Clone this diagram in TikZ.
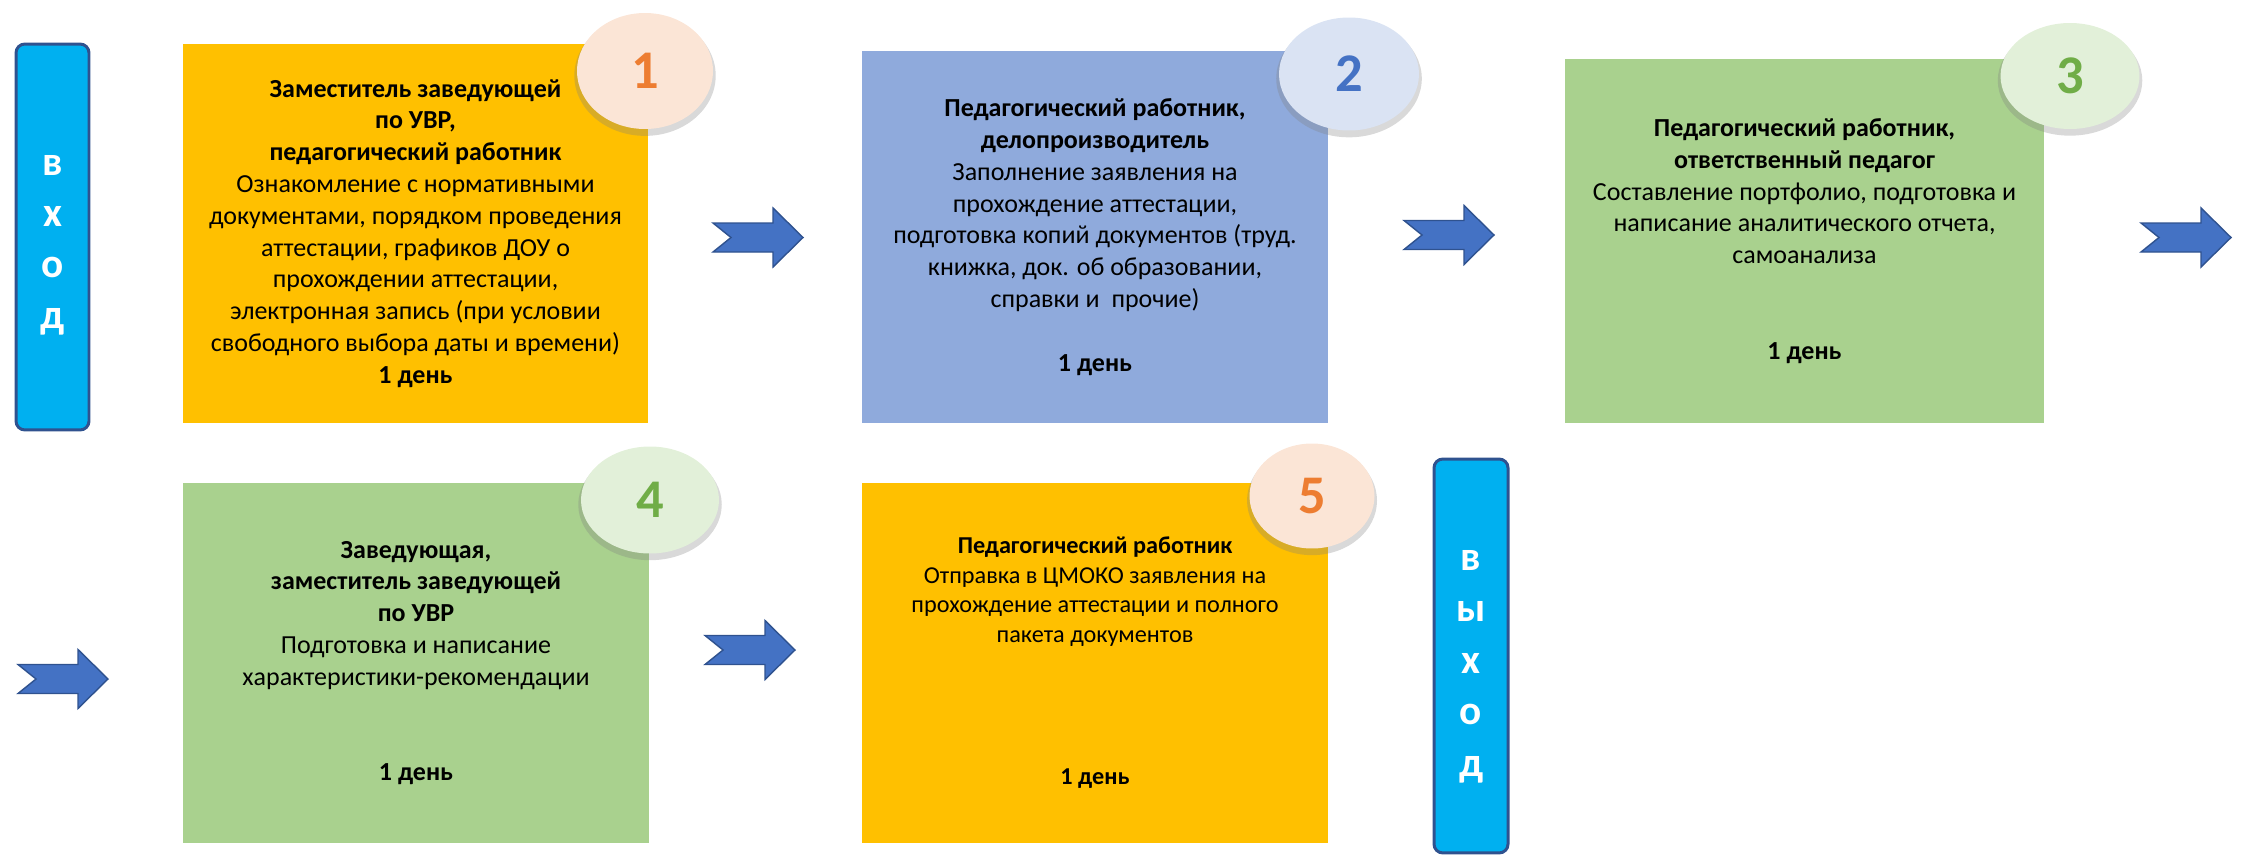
\documentclass[tikz,border=0pt]{standalone}
\usepackage{fontspec}
\setmainfont{Carlito}
\usepackage{tikz}
\usetikzlibrary{shapes.geometric,shadows}
\definecolor{boxorange}{HTML}{FFC000}
\definecolor{boxblue}{HTML}{8FAADC}
\definecolor{boxgreen}{HTML}{A9D18E}
\definecolor{badgeorange}{HTML}{FBE5D6}
\definecolor{badgeblue}{HTML}{DAE3F3}
\definecolor{badgegreen}{HTML}{E2F0D9}
\definecolor{numorange}{HTML}{ED7D31}
\definecolor{numblue}{HTML}{4472C4}
\definecolor{numgreen}{HTML}{70AD47}
\definecolor{barblue}{HTML}{00B0F0}
\definecolor{barline}{HTML}{2F528F}
\definecolor{arrowblue}{HTML}{4472C4}
\tikzset{
	stepbox/.style={rectangle, inner sep=0pt, align=center, font=\fontsize{14.8}{18.1}\selectfont},
	badge/.style={ellipse, inner sep=0pt, font=\fontsize{31}{31}\selectfont\bfseries,
		drop shadow={shadow xshift=0pt, shadow yshift=-2.5pt, shadow scale=1.04, opacity=0.3}},
	bar/.style={rectangle, draw=barline, line width=1.7pt, fill=barblue, rounded corners=5pt},
	barletter/.style={anchor=base, inner sep=0pt, text=white, font=\fontsize{23.5}{24}\selectfont\bfseries},
	notcharrow/.style={draw=barline, fill=arrowblue, line width=0.8pt, line join=miter},
}
\def\blockarrow(#1,#2){\draw[notcharrow, shift={(#1,#2)}] (0,-14.5) -- (60,-14.5) -- (60,-29.5) -- (90,0) -- (60,29.5) -- (60,14.5) -- (0,14.5) -- (18,0) -- cycle;}

\begin{document}
\begin{tikzpicture}[x=0.02cm, y=-0.02cm]
			%%%%% START %%%%%
			\useasboundingbox (0,0) rectangle (2241,855);
			
			\node[bar, minimum width=1.46cm, minimum height=7.72cm] (entry) at (52.5,237) {};
			\foreach \ch [count=\i] in {в,х,о,д}
				\node[barletter] (in\i) at (52.5,{175+51*(\i-1)}) {\ch};
			
			\node[stepbox, fill=boxorange, minimum width=9.3cm, minimum height=7.58cm] (step1) at (415.5,233.5)
				{\textbf{Заместитель заведующей}\\ \textbf{по УВР,}\\ \textbf{педагогический работник}\\
				Ознакомление с нормативными\\ документами, порядком проведения\\ аттестации, графиков ДОУ о\\
				прохождении аттестации,\\ электронная запись (при условии\\ свободного выбора даты и времени)\\
				\textbf{1 день}};
			\node[badge, fill=badgeorange, text=numorange, minimum width=2.72cm, minimum height=2.32cm] (num1) at (645,71) {1};
			
			\blockarrow(713,237.5)
			
			\node[stepbox, fill=boxblue, minimum width=9.32cm, minimum height=7.44cm] (step2) at (1095,237)
				{\textbf{Педагогический работник,}\\ \textbf{делопроизводитель}\\ Заполнение заявления на\\
				прохождение аттестации,\\ подготовка копий документов (труд.\\ книжка, док. об образовании,\\
				справки и~ прочие)\\[18.1pt] \textbf{1 день}};
			\node[badge, fill=badgeblue, text=numblue, minimum width=2.8cm, minimum height=2.26cm] (num2) at (1349,74) {2};
			
			\blockarrow(1404,235)
			
			\node[stepbox, fill=boxgreen, minimum width=9.58cm, minimum height=7.28cm] (step3) at (1804.5,241)
				{\textbf{Педагогический работник,}\\ \textbf{ответственный педагог}\\ Составление портфолио, подготовка и\\
				написание аналитического отчета,\\ самоанализа\\[36.2pt] \textbf{1 день}};
			\node[badge, fill=badgegreen, text=numgreen, minimum width=2.78cm, minimum height=2.12cm] (num3) at (2070,76) {3};
			
			\blockarrow(2141,237.5)
			
			\blockarrow(18,679)
			
			\node[stepbox, fill=boxgreen, minimum width=9.32cm, minimum height=7.2cm] (step4) at (416,663)
				{\textbf{Заведующая,}\\ \textbf{заместитель заведующей}\\ \textbf{по УВР}\\ Подготовка и написание\\
				характеристики-рекомендации\\[36.2pt] \textbf{1 день}};
			\node[badge, fill=badgegreen, text=numgreen, minimum width=2.76cm, minimum height=2.14cm] (num4) at (650,500) {4};
			
			\blockarrow(705,650)
			
			\node[stepbox, fill=boxorange, minimum width=9.32cm, minimum height=7.2cm, font=\fontsize{13.8}{16.8}\selectfont] (step5) at (1095,663)
				{\textbf{Педагогический работник}\\ Отправка в ЦМОКО заявления на\\ прохождение аттестации и полного\\
				пакета документов\\[64.3pt] \textbf{1 день}};
			\node[badge, fill=badgeorange, text=numorange, minimum width=2.5cm, minimum height=2.1cm] (num5) at (1312,496) {5};
			
			\node[bar, minimum width=1.48cm, minimum height=7.88cm] (exit) at (1471,656) {};
			\foreach \ch [count=\i] in {в,ы,х,о,д}
				\node[barletter] (out\i) at (1471,{570+51.5*(\i-1)}) {\ch};
			%%%%% END %%%%%
\end{tikzpicture}
\end{document}
